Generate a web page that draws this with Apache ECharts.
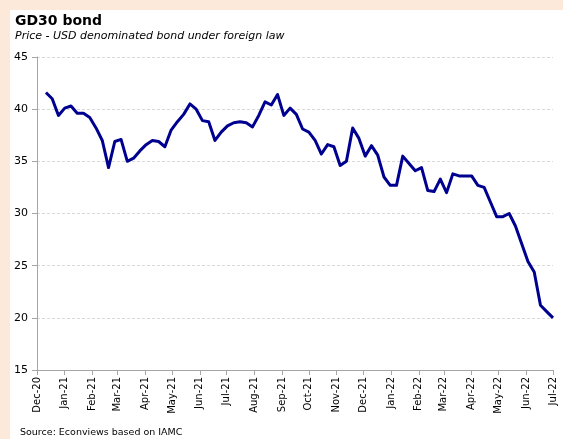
<!DOCTYPE html>
<html>
<head>
<meta charset="utf-8">
<script src="https://cdn.jsdelivr.net/npm/echarts@6/dist/echarts.min.js"></script>
<style>
  html, body { margin: 0; padding: 0; background: #fce9da; }
  #chart { width: 563px; height: 439px; }
</style>
</head>
<body>
<div id="chart"></div>
<script>
// Weekly closing dates (Fridays)
const dates = [
  '2020-12-11','2020-12-18','2020-12-25',
  '2021-01-01','2021-01-08','2021-01-15','2021-01-22','2021-01-29',
  '2021-02-05','2021-02-12','2021-02-19','2021-02-26',
  '2021-03-05','2021-03-12','2021-03-19','2021-03-26',
  '2021-04-02','2021-04-09','2021-04-16','2021-04-23','2021-04-30',
  '2021-05-07','2021-05-14','2021-05-21','2021-05-28',
  '2021-06-04','2021-06-11','2021-06-18','2021-06-25',
  '2021-07-02','2021-07-09','2021-07-16','2021-07-23','2021-07-30',
  '2021-08-06','2021-08-13','2021-08-20','2021-08-27',
  '2021-09-03','2021-09-10','2021-09-17','2021-09-24',
  '2021-10-01','2021-10-08','2021-10-15','2021-10-22','2021-10-29',
  '2021-11-05','2021-11-12','2021-11-19','2021-11-26',
  '2021-12-03','2021-12-10','2021-12-17','2021-12-24','2021-12-31',
  '2022-01-07','2022-01-14','2022-01-21','2022-01-28',
  '2022-02-04','2022-02-11','2022-02-18','2022-02-25',
  '2022-03-04','2022-03-11','2022-03-18','2022-03-25',
  '2022-04-01','2022-04-08','2022-04-15','2022-04-22','2022-04-29',
  '2022-05-06','2022-05-13','2022-05-20','2022-05-27',
  '2022-06-03','2022-06-10','2022-06-17','2022-06-24',
  '2022-07-01'
];

// GD30 price (USD), one row per month
const prices = [
  41.6, 41.0, 39.4,
  40.1, 40.3, 39.6, 39.6, 39.2,
  38.2, 37.0, 34.4, 36.9,
  37.1, 35.0, 35.3, 36.0,
  36.6, 37.0, 36.9, 36.4, 38.0,
  38.8, 39.5, 40.5, 40.0,
  38.9, 38.8, 37.0, 37.8,
  38.4, 38.7, 38.8, 38.7, 38.3,
  39.4, 40.7, 40.4, 41.4,
  39.4, 40.1, 39.5, 38.1,
  37.8, 37.0, 35.7, 36.6, 36.4,
  34.6, 35.0, 38.2, 37.2,
  35.5, 36.5, 35.6, 33.5, 32.7,
  32.7, 35.5, 34.8, 34.1,
  34.4, 32.2, 32.1, 33.3,
  32.0, 33.8, 33.6, 33.6,
  33.6, 32.7, 32.5, 31.1, 29.7,
  29.7, 30.0, 28.8, 27.1,
  25.4, 24.4, 21.2, 20.6,
  20.0
];

const monthNames = ['Jan','Feb','Mar','Apr','May','Jun','Jul','Aug','Sep','Oct','Nov','Dec'];
const xStart = '2020-12-01';
const xEnd = '2022-07-01';
const yMin = 15, yMax = 45, yStep = 5;

const titleText = 'GD30 bond';
const subtitleText = 'Price - USD denominated bond under foreign law';
const sourceText = 'Source: Econviews based on IAMC';

const font = '"DejaVu Sans", Verdana, sans-serif';

const chart = echarts.init(document.getElementById('chart'), null, { renderer: 'canvas' });

chart.setOption({
  backgroundColor: '#fce9da',
  animation: false,
  graphic: [
    { type: 'rect', left: 10, top: 10, shape: { width: 553, height: 429 }, style: { fill: '#ffffff' }, z: -10 },
    { type: 'text', left: 15, top: 14, style: { text: titleText, font: 'bold 14px ' + font, fill: '#000' } },
    { type: 'text', left: 15, top: 31, style: { text: subtitleText, font: 'italic 11px ' + font, fill: '#000' } },
    { type: 'text', left: 20, top: 428, style: { text: sourceText, font: '9.5px ' + font, fill: '#000' } }
  ],
  grid: { left: 37, right: 10, top: 57, bottom: 69, containLabel: false },
  xAxis: {
    type: 'time',
    min: xStart,
    max: xEnd,
    splitNumber: 20,
    axisLine: { lineStyle: { color: '#a6a6a6', width: 1 } },
    axisTick: { show: true, length: 5, lineStyle: { color: '#a6a6a6' } },
    splitLine: { show: false },
    axisLabel: {
      rotate: 90,
      fontFamily: font,
      fontSize: 10,
      color: '#000',
      margin: 7,
      hideOverlap: false,
      formatter: function (v) {
        const d = new Date(v);
        return monthNames[d.getMonth()] + '-' + String(d.getFullYear()).slice(2);
      }
    }
  },
  yAxis: {
    type: 'value',
    min: yMin,
    max: yMax,
    interval: yStep,
    axisLine: { show: true, lineStyle: { color: '#a6a6a6', width: 1 } },
    axisTick: { show: true, length: 5, lineStyle: { color: '#a6a6a6' } },
    splitLine: { show: true, lineStyle: { color: '#d9d9d9', type: [3, 2], width: 1 } },
    axisLabel: { fontFamily: font, fontSize: 11, color: '#000', margin: 9 }
  },
  series: [{
    type: 'line',
    data: dates.map((d, i) => [d, prices[i]]),
    symbol: 'none',
    lineStyle: { color: '#000090', width: 3, join: 'round' },
    itemStyle: { color: '#000090' }
  }]
});
</script>
</body>
</html>
